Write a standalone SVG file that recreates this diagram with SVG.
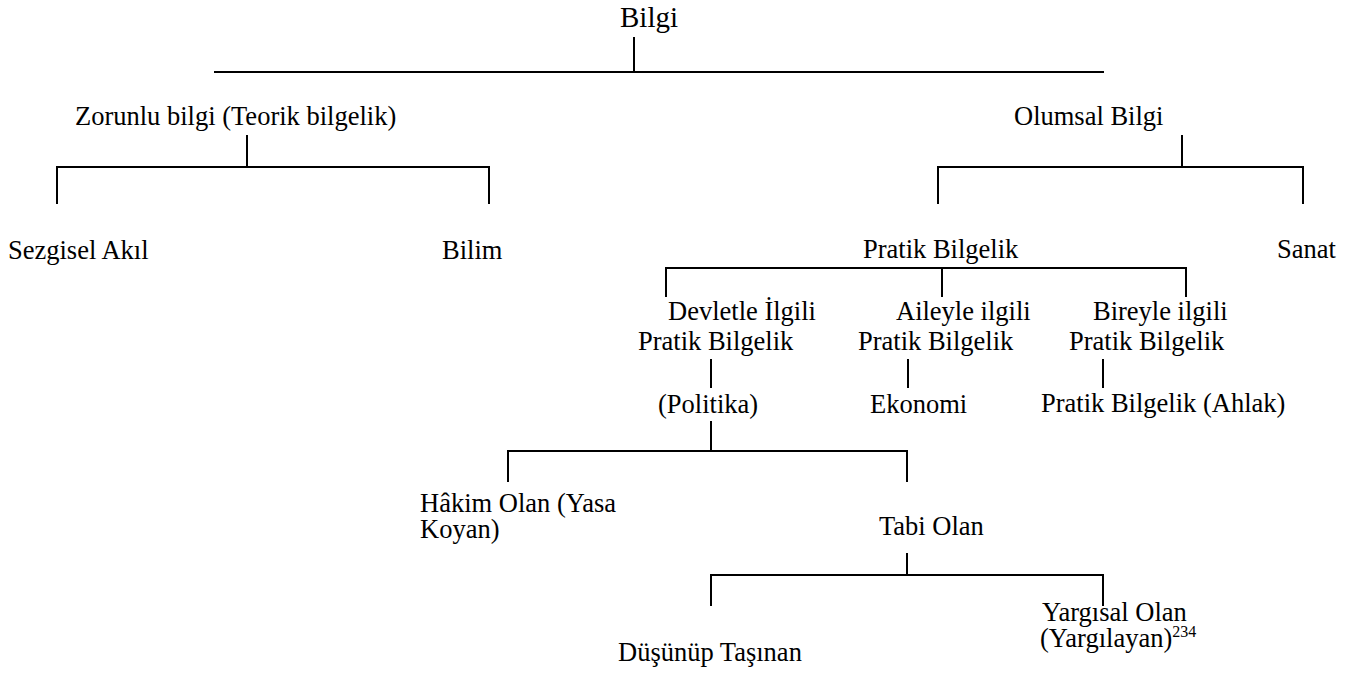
<svg xmlns="http://www.w3.org/2000/svg" width="1358" height="675" viewBox="0 0 1358 675">
<style>
.t{font-family:"Liberation Serif","Times New Roman",serif;font-size:26.5px;fill:#000}
.big{font-size:29px}
.sup{font-size:16px}
.c line{stroke:#000;stroke-width:2}
</style>
<rect width="1358" height="675" fill="#fff"/>
<g class="c" id="connectors">
<line x1="634" y1="37" x2="634" y2="72"/>
<line x1="214" y1="72" x2="1104" y2="72"/>
<line x1="247" y1="135" x2="247" y2="167"/>
<line x1="56" y1="167" x2="490" y2="167"/>
<line x1="57" y1="167" x2="57" y2="204"/>
<line x1="489" y1="167" x2="489" y2="204"/>
<line x1="1182" y1="135" x2="1182" y2="167"/>
<line x1="937" y1="167" x2="1304" y2="167"/>
<line x1="938" y1="167" x2="938" y2="204"/>
<line x1="1303" y1="167" x2="1303" y2="204"/>
<line x1="665" y1="268" x2="1187" y2="268"/>
<line x1="666" y1="268" x2="666" y2="297"/>
<line x1="942" y1="268" x2="942" y2="297"/>
<line x1="1186" y1="268" x2="1186" y2="297"/>
<line x1="711" y1="359" x2="711" y2="388"/>
<line x1="908" y1="359" x2="908" y2="388"/>
<line x1="1103" y1="359" x2="1103" y2="388"/>
<line x1="711" y1="421" x2="711" y2="451"/>
<line x1="507" y1="451" x2="908" y2="451"/>
<line x1="508" y1="451" x2="508" y2="482"/>
<line x1="907" y1="451" x2="907" y2="482"/>
<line x1="907" y1="553" x2="907" y2="575"/>
<line x1="710" y1="575" x2="1104" y2="575"/>
<line x1="711" y1="575" x2="711" y2="606"/>
<line x1="1103" y1="575" x2="1103" y2="606"/>
</g>
<g id="bilgi"><text class="t big" x="620" y="27">Bilgi</text></g>
<g id="zorunlu"><text class="t" x="75" y="125">Zorunlu bilgi (Teorik bilgelik)</text></g>
<g id="olumsal"><text class="t" x="1014" y="125">Olumsal Bilgi</text></g>
<g id="sezgisel"><text class="t" x="8" y="259">Sezgisel Akıl</text></g>
<g id="bilim"><text class="t" x="442" y="259">Bilim</text></g>
<g id="pratik"><text class="t" x="863" y="258">Pratik Bilgelik</text></g>
<g id="sanat"><text class="t" x="1277" y="258">Sanat</text></g>
<g id="devlet"><text class="t" x="668" y="320">Devletle İlgili</text><text class="t" x="638" y="350">Pratik Bilgelik</text></g>
<g id="aile"><text class="t" x="896" y="320">Aileyle ilgili</text><text class="t" x="858" y="350">Pratik Bilgelik</text></g>
<g id="birey"><text class="t" x="1093" y="320">Bireyle ilgili</text><text class="t" x="1069" y="350">Pratik Bilgelik</text></g>
<g id="politika"><text class="t" x="658" y="413">(Politika)</text></g>
<g id="ekonomi"><text class="t" x="870" y="413">Ekonomi</text></g>
<g id="ahlak"><text class="t" x="1041" y="412">Pratik Bilgelik (Ahlak)</text></g>
<g id="hakim"><text class="t" x="420" y="512">Hâkim Olan (Yasa</text><text class="t" x="420" y="538">Koyan)</text></g>
<g id="tabi"><text class="t" x="879" y="535">Tabi Olan</text></g>
<g id="dusunup"><text class="t" x="618" y="661">Düşünüp Taşınan</text></g>
<g id="yargisal"><text class="t" x="1042" y="621">Yargısal Olan</text><text class="t" x="1040" y="647">(Yargılayan)<tspan class="sup" dy="-10">234</tspan></text></g>
</svg>
